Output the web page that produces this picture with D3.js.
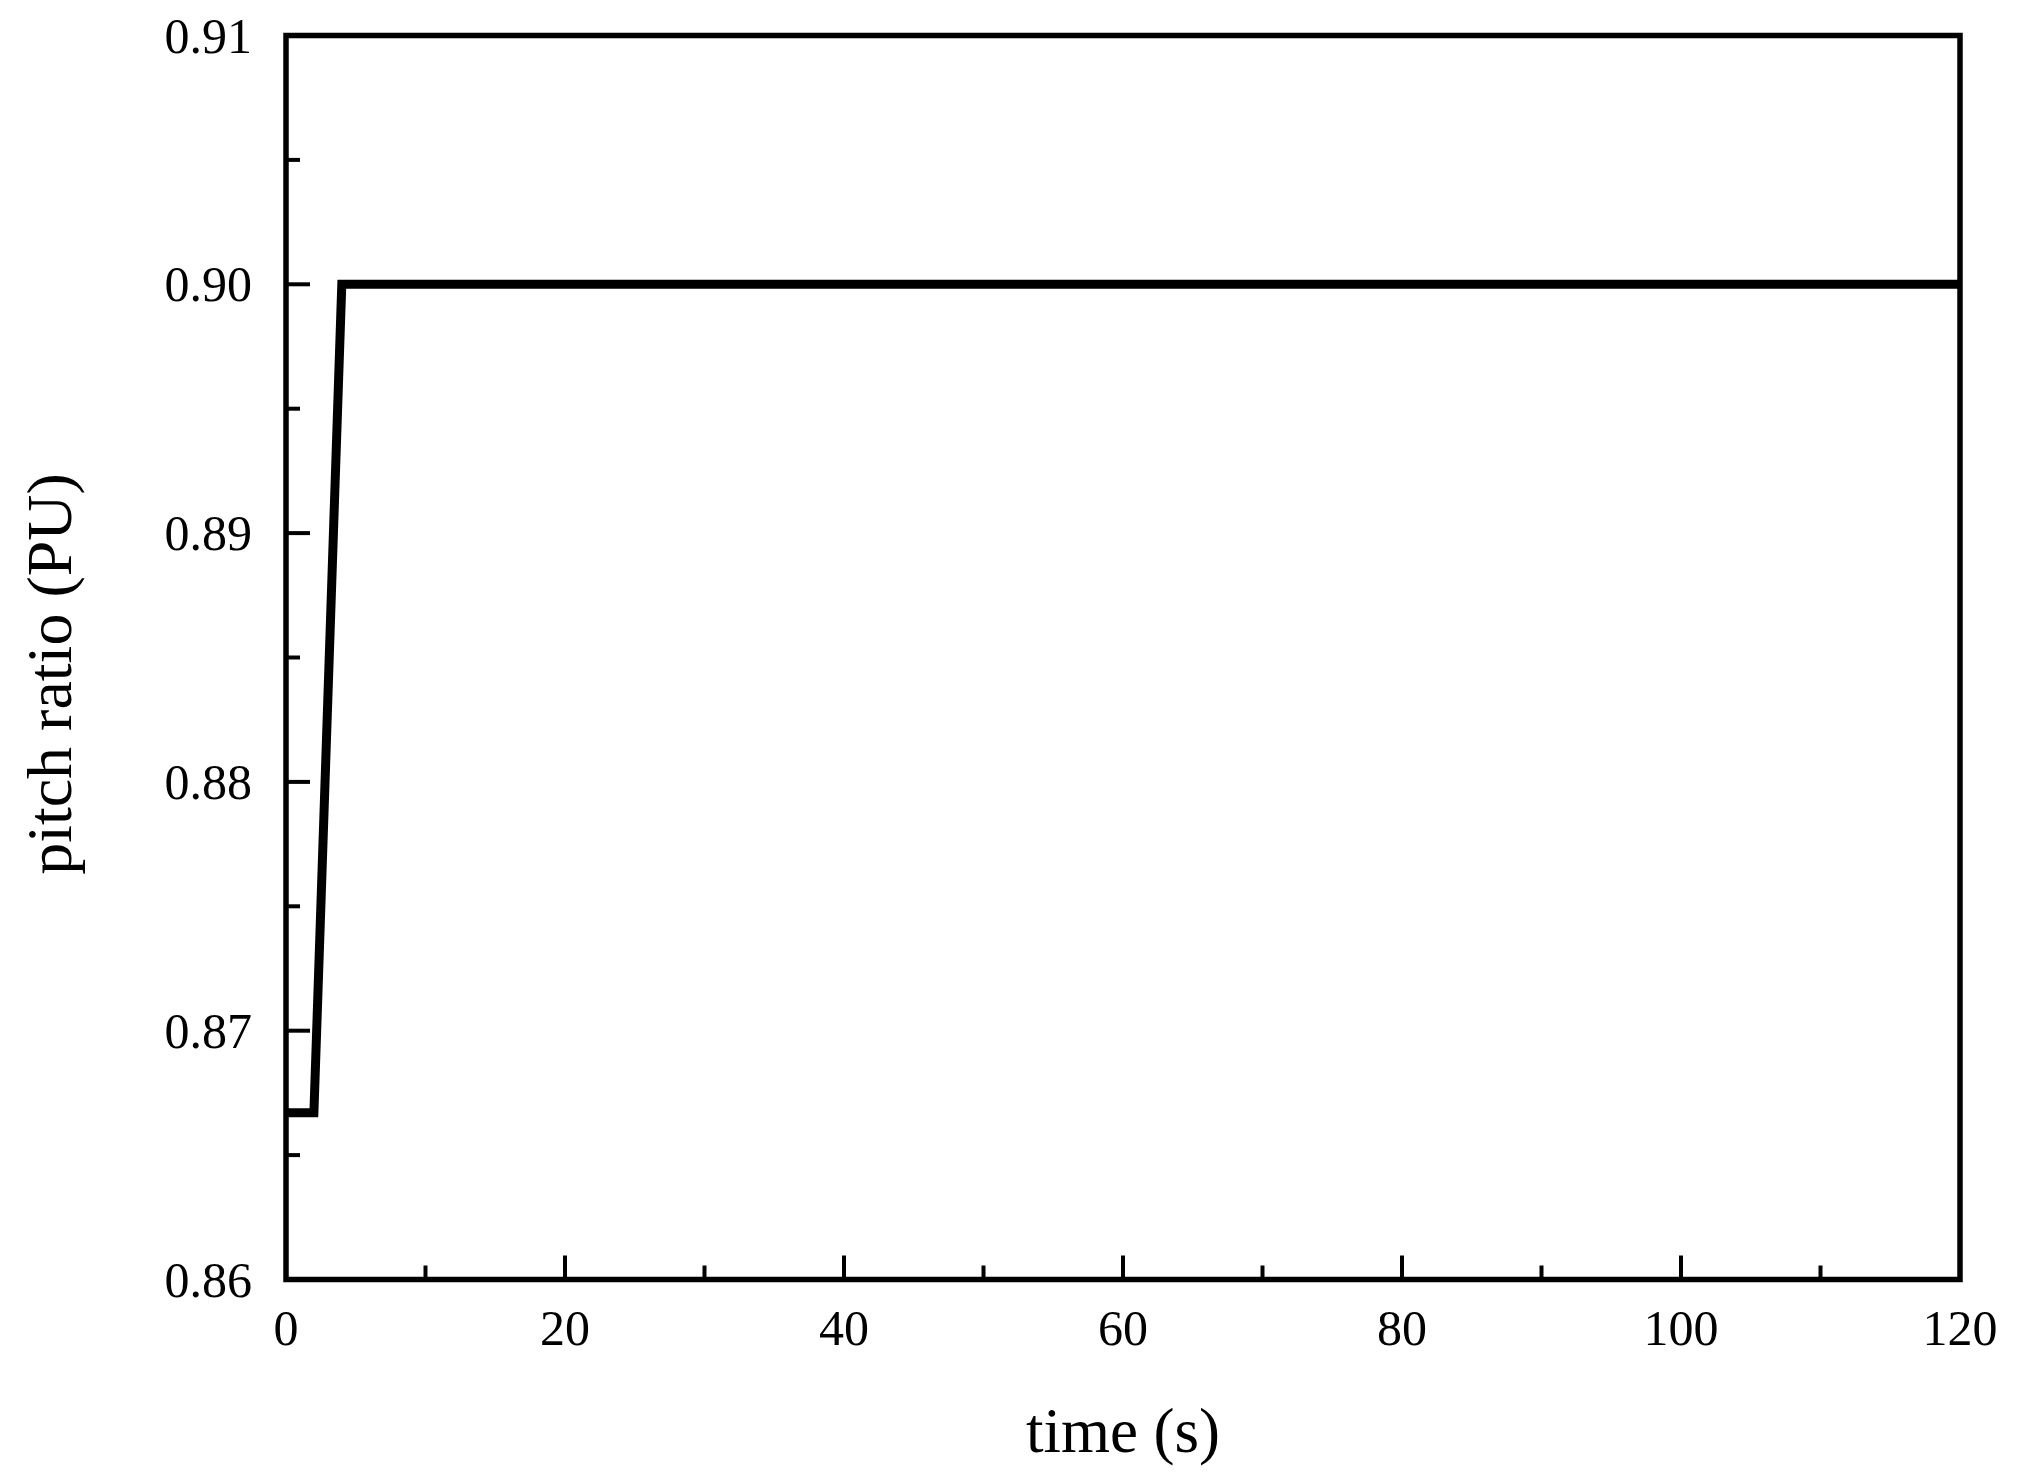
<!DOCTYPE html>
<html><head><meta charset="utf-8">
<script src="https://cdn.jsdelivr.net/npm/d3@7"></script>
<style>html,body{margin:0;padding:0;background:#fff;}svg{display:block;}</style>
</head><body>
<svg id="chart" width="2018" height="1484"></svg>
<script>
const timeValues = [0, 2, 4, 120];
const pitchValues = [0.8667, 0.8667, 0.90, 0.90];
const xMajorTicks = [0, 20, 40, 60, 80, 100, 120];
const xMinorTicks = [10, 30, 50, 70, 90, 110];
const yMajorTicks = [0.86, 0.87, 0.88, 0.89, 0.90, 0.91];
const yMinorTicks = [0.865, 0.875, 0.885, 0.895, 0.905];
const xTitle = "time (s)";
const yTitle = "pitch ratio (PU)";

const L = 286, R = 1960, T = 35.5, B = 1279.5;
const font = "'Liberation Serif','Times New Roman',serif";
const svg = d3.select("#chart");
const x = d3.scaleLinear().domain([0, 120]).range([L, R]);
const y = d3.scaleLinear().domain([0.86, 0.91]).range([B, T]);

// ticks (inward)
const g = svg.append("g");
g.selectAll(".xmaj").data(xMajorTicks).enter().append("line")
  .attr("x1", d => x(d)).attr("x2", d => x(d)).attr("y1", B).attr("y2", B - 24)
  .attr("stroke", "#000").attr("stroke-width", 4);
g.selectAll(".xmin").data(xMinorTicks).enter().append("line")
  .attr("x1", d => x(d)).attr("x2", d => x(d)).attr("y1", B).attr("y2", B - 14)
  .attr("stroke", "#000").attr("stroke-width", 4);
g.selectAll(".ymaj").data(yMajorTicks).enter().append("line")
  .attr("x1", L).attr("x2", L + 24).attr("y1", d => y(d)).attr("y2", d => y(d))
  .attr("stroke", "#000").attr("stroke-width", 4);
g.selectAll(".ymin").data(yMinorTicks).enter().append("line")
  .attr("x1", L).attr("x2", L + 14).attr("y1", d => y(d)).attr("y2", d => y(d))
  .attr("stroke", "#000").attr("stroke-width", 4);

// tick labels
g.selectAll(".xl").data(xMajorTicks).enter().append("text")
  .attr("x", d => x(d)).attr("y", 1345).attr("text-anchor", "middle")
  .attr("font-family", font).attr("font-size", 50).text(d => d);
g.selectAll(".yl").data(yMajorTicks).enter().append("text")
  .attr("x", 252).attr("y", d => y(d) + 17).attr("text-anchor", "end")
  .attr("font-family", font).attr("font-size", 50).text(d => d.toFixed(2));

// data line
const line = d3.line().x((d, i) => x(timeValues[i])).y(d => y(d));
svg.append("path").datum(pitchValues).attr("d", line)
  .attr("fill", "none").attr("stroke", "#000").attr("stroke-width", 9)
  .attr("stroke-linejoin", "miter");

// frame
svg.append("rect").attr("x", L).attr("y", T).attr("width", R - L).attr("height", B - T)
  .attr("fill", "none").attr("stroke", "#000").attr("stroke-width", 5.5);

// titles
svg.append("text").attr("x", (L + R) / 2).attr("y", 1452).attr("text-anchor", "middle")
  .attr("font-family", font).attr("font-size", 63).text(xTitle);
svg.append("text").attr("transform", "translate(71,674) rotate(-90)").attr("text-anchor", "middle")
  .attr("font-family", font).attr("font-size", 64).text(yTitle);
</script>
</body></html>
